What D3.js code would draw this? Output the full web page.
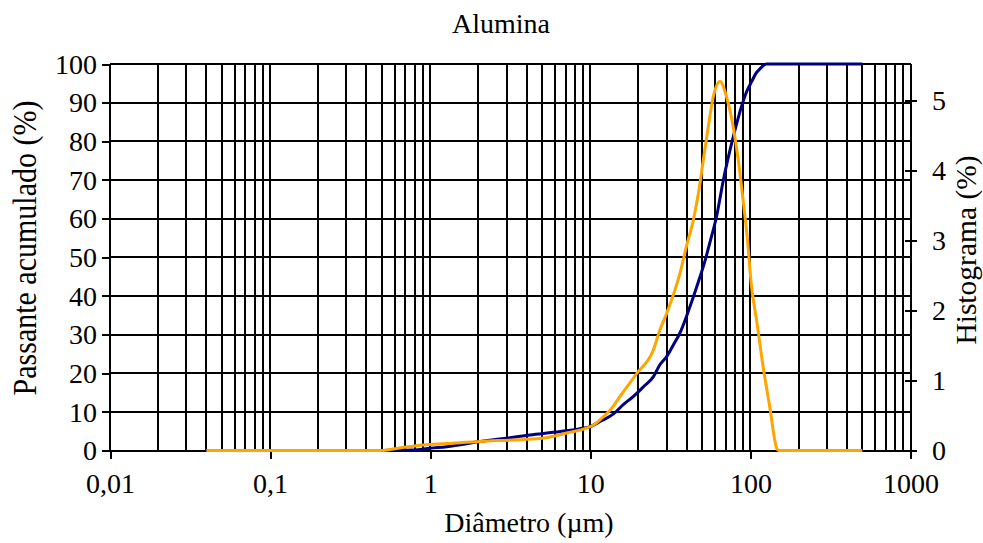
<!DOCTYPE html>
<html><head><meta charset="utf-8">
<script src="https://cdn.jsdelivr.net/npm/d3@7"></script>
<style>
html,body{margin:0;padding:0;background:#fff;}
svg text{font-family:"Liberation Serif","DejaVu Serif",serif !important;fill:#000;}
</style></head>
<body><svg id="c" width="983" height="543"></svg>
<script>
// Data
const xTicks = [0.01, 0.1, 1, 10, 100, 1000];
const xTickLabels = ["0,01", "0,1", "1", "10", "100", "1000"];
const yLeftTicks = [0,10,20,30,40,50,60,70,80,90,100];
const yRightTicks = [0,1,2,3,4,5];
// Cumulative passing (%) - blue
const cumDiam = [0.04,0.5,0.78,1.0,1.27,2.05,3.0,4.2,6.5,8.5,10,11.5,13.9,16,18.6,21.5,24.8,27.2,30,33,36.3,42,48.5,52,56,61.5,67.8,78,88,95,102,108,115,126,500];
const cumVal  = [0,0,0.1,0.6,1.0,2.3,3.2,4.0,4.9,5.6,6.2,7.5,9.4,11.8,14,16.5,19.1,22.2,24.3,27.3,30.4,37.3,45,49,54,60.6,70,81,89,93,95.5,97.5,98.8,100,100];
// Histogram (%) - orange
const histDiam = [0.04,0.49,0.62,0.9,1.27,2.05,3.3,4.85,7.1,10.4,11.5,13.9,15.3,19.5,24.8,27.2,30,36.3,40,44,47.3,50.8,54.6,58.6,64.6,71,78,84,90,96,101,110,120,132,146,150,500];
const histVal  = [0,0,0.03,0.08,0.10,0.13,0.15,0.17,0.25,0.36,0.44,0.63,0.77,1.1,1.44,1.72,1.96,2.53,2.93,3.29,3.67,4.15,4.63,5.05,5.27,5.05,4.63,4.15,3.58,3.0,2.4,1.82,1.2,0.63,0.03,0,0];

const svg = d3.select("#c");
const FS = 28;
const x = d3.scaleLog().domain([0.01,1000]).range([110, 910.5]);
const yL = d3.scaleLinear().domain([0,100]).range([450.5, 64]);
const yR = d3.scaleLinear().domain([0,5.5]).range([450.5, 65.5]);

const gridX = [];
for (let e=-2; e<3; e++) for (let m=1; m<10; m++) gridX.push(m*Math.pow(10,e));
gridX.push(1000);

const grid = svg.append("g").attr("stroke","#000").attr("stroke-width",2).attr("shape-rendering","crispEdges");
grid.selectAll("line.v").data(gridX).join("line").attr("class","v")
  .attr("x1",d=>x(d)).attr("x2",d=>x(d)).attr("y1",yL(100)).attr("y2",yL(0));
grid.selectAll("line.h").data(yLeftTicks).join("line").attr("class","h")
  .attr("x1",x(0.01)).attr("x2",x(1000)).attr("y1",d=>yL(d)).attr("y2",d=>yL(d));

const axL = d3.axisLeft(yL).tickValues(yLeftTicks).tickSize(8).tickPadding(5);
const gL = svg.append("g").attr("transform",`translate(${x(0.01)},0)`).call(axL);
const axB = d3.axisBottom(x).tickValues(xTicks).tickFormat((d,i)=>xTickLabels[i]).tickSize(8).tickPadding(15);
const gB = svg.append("g").attr("transform",`translate(0,${yL(0)})`).call(axB);
const axR = d3.axisRight(yR).tickValues(yRightTicks).tickFormat(d3.format("d")).tickSize(12).tickPadding(15);
const gR = svg.append("g").attr("transform",`translate(${x(1000)-5.5},0)`).call(axR);
[gL,gB,gR].forEach(g=>{
  g.attr("font-family",null).attr("font-size",null);
  g.select(".domain").remove();
  g.selectAll(".tick line").attr("stroke","#000").attr("stroke-width",2).attr("shape-rendering","crispEdges");
  g.selectAll("text").attr("font-size",FS).attr("fill","#000");
});
gL.selectAll("text").attr("dy","0.33em");

const lineCum = d3.line().x((d,i)=>x(cumDiam[i])).y(d=>yL(d)).curve(d3.curveMonotoneX);
const lineHist = d3.line().x((d,i)=>x(histDiam[i])).y(d=>yR(d)).curve(d3.curveMonotoneX);
svg.append("path").datum(cumVal).attr("d",lineCum).attr("fill","none").attr("stroke","#000080").attr("stroke-width",3).attr("stroke-linejoin","round");
svg.append("path").datum(histVal).attr("d",lineHist).attr("fill","none").attr("stroke","#FFA500").attr("stroke-width",3).attr("stroke-linejoin","round");

svg.append("text").attr("x",501).attr("y",33).attr("text-anchor","middle").attr("font-size",28).text("Alumina");
svg.append("text").attr("x",529).attr("y",532).attr("text-anchor","middle").attr("font-size",28).text("Diâmetro (µm)");
svg.append("text").attr("transform","translate(36,248) rotate(-90) scale(1,1.12)").attr("text-anchor","middle").attr("font-size",30).text("Passante acumulado (%)");
svg.append("text").attr("transform","translate(976,250) rotate(-90)").attr("text-anchor","middle").attr("font-size",29.5).text("Histograma (%)");
</script></body></html>
